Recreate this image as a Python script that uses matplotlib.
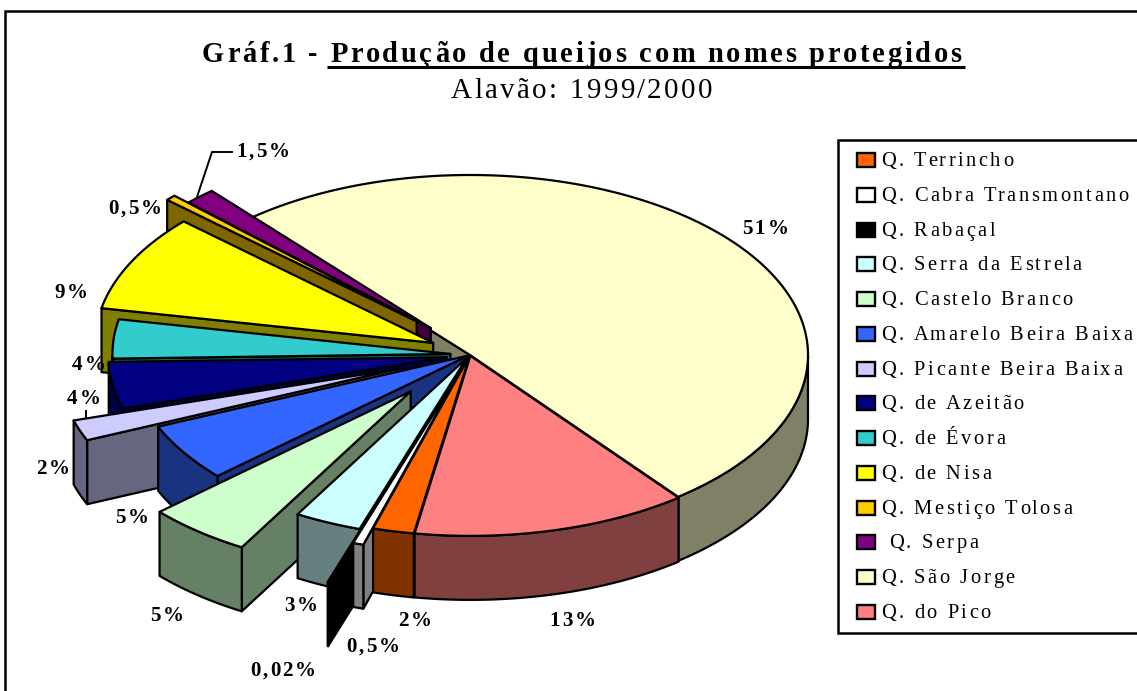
import numpy as np
import matplotlib
matplotlib.use("Agg")
import matplotlib.pyplot as plt
from matplotlib.patches import Polygon, Rectangle
from matplotlib.text import Text

plt.rcParams["font.family"] = ["Liberation Serif", "DejaVu Serif"]

# legend order, which is also the clockwise order of the slices
names = ["Q. Terrincho", "Q. Cabra Transmontano", "Q. Rabaçal", "Q. Serra da Estrela",
         "Q. Castelo Branco", "Q. Amarelo Beira Baixa", "Q. Picante Beira Baixa",
         "Q. de Azeitão", "Q. de Évora", "Q. de Nisa", "Q. Mestiço Tolosa",
         " Q. Serpa", "Q. São Jorge", "Q. do Pico"]
# a little finer than the printed labels
values = [1.97, 0.5, 0.02, 3.2, 5.0, 5.2, 1.86, 4.2, 3.5, 8.7, 0.5, 1.5, 50.66, 13.2]
colors = ["#FF6600", "#FFFFFF", "#000000", "#CCFFFF", "#CCFFCC", "#3366FF", "#CCCCFF",
          "#000080", "#33CCCC", "#FFFF00", "#FFCC00", "#800080", "#FFFFCC", "#FF8080"]
# how far each slice is pulled out, as a share of the radius
explode_x = [0.005, 0.1, 0.33, 0.025, 0.279, 0.005, 0.228, 0.07, 0.058, 0.122, 0.217, 0.17, 0.0, 0.005]
explode_y = [0.005, 0.1, 0.33, 0.02, 0.26, 0.005, 0.228, 0.08, 0.07, 0.15, 0.273, 0.205, 0.0, 0.005]

pct_labels = ["2%", "0,5%", "0,02%", "3%", "5%", "5%", "2%", "4%", "4%", "9%", "0,5%", "1,5%", "51%", "13%"]
pct_xy = [(398, 626), (346, 652), (250, 676), (284, 611), (150, 621), (115, 523), (36, 474),
          (67, 404), (72, 370), (54, 298), (108, 214), (236, 157), (742, 234), (549, 626)]

# back to front
draw_order = [12, 11, 10, 9, 8, 7, 6, 5, 4, 3, 2, 1, 0, 13]

CX, CY, RX, RY, DEPTH = 470, 355, 338, 180, 64
START = -99.5
LW = 1.6


class TrackedText(Text):
    # matplotlib has no letter spacing, the reference has a lot of it
    tracking = 0

    def draw(self, renderer):
        s = self.get_text()
        x = self.get_position()[0]
        prop = self.get_fontproperties()
        bar = renderer.get_text_width_height_descent("|", prop, False)[0]
        for i, ch in enumerate(s):
            # the bar keeps trailing spaces in the measure and does not kern
            w = renderer.get_text_width_height_descent(s[:i] + "|", prop, False)[0] - bar
            self.set_text(ch)
            self.set_x(x + w + i * self.tracking)
            super().draw(renderer)
        self.set_text(s)
        self.set_x(x)


def put_text(ax, x, y, s, px, tracking, weight="normal"):
    t = TrackedText(x, y, s, fontsize=px * 0.72, fontweight=weight, va="baseline", ha="left", color="black")
    t.tracking = tracking
    ax.add_artist(t)
    return t


def point(apex, t):
    a = np.radians(t)
    return apex[0] + RX * np.cos(a), apex[1] - RY * np.sin(a)


def face(ax, pts, color):
    ax.add_patch(Polygon(pts, closed=True, facecolor=color, edgecolor="black", lw=LW, joinstyle="round"))


def draw_slice(ax, t0, t1, ex, ey, color):
    a = np.radians((t0 + t1) / 2)
    apex = (CX + ex * RX * np.cos(a), CY - ey * RY * np.sin(a))
    dark = tuple(c * 0.5 for c in matplotlib.colors.to_rgb(color))
    ts = np.linspace(t0, t1, max(int(abs(t1 - t0) * 2), 2))
    arc = [point(apex, t) for t in ts]

    # radial walls, only where they face the viewer
    for t, normal in ((t0, t0 + 90), (t1, t1 - 90)):
        if np.sin(np.radians(normal)) < 0:
            p = point(apex, t)
            face(ax, [apex, p, (p[0], p[1] + DEPTH), (apex[0], apex[1] + DEPTH)], dark)

    # outer wall on the front half of the ellipse
    front = [point(apex, t) for t in ts if np.sin(np.radians(t)) < 0]
    if len(front) > 1:
        face(ax, front + [(x, y + DEPTH) for x, y in reversed(front)], dark)

    face(ax, [apex] + arc, color)


fig = plt.figure(figsize=(11.37, 6.91), dpi=100)
ax = fig.add_axes([0, 0, 1, 1])
ax.set_xlim(0, 1137)
ax.set_ylim(691, 0)
ax.axis("off")

# chart border runs off the picture on the right and bottom
ax.add_patch(Rectangle((5, 11), 1200, 760, facecolor="white", edgecolor="black", lw=1.8))

fracs = np.array(values) / sum(values) * 360
edges = START - np.concatenate([[0], np.cumsum(fracs)])
for i in draw_order:
    draw_slice(ax, edges[i], edges[i + 1], explode_x[i], explode_y[i], colors[i])

for s, (x, y) in zip(pct_labels, pct_xy):
    put_text(ax, x, y, s, 21, 2.2, "bold")

# leader lines
ax.plot([232, 212, 197], [152, 152, 197], color="black", lw=1.4)
ax.plot([86, 86], [411, 418], color="black", lw=1.4)

# title
put_text(ax, 202, 62, "Gráf.1 - Produção de queijos com nomes protegidos", 28.5, 2.75, "bold")
ax.plot([327, 965], [66.5, 66.5], color="black", lw=2.2, solid_capstyle="butt")
put_text(ax, 451, 98, "Alavão: 1999/2000", 29, 2.4)

# legend
ax.add_patch(Rectangle((838, 140), 400, 493, facecolor="white", edgecolor="black", lw=1.8))
for i, s in enumerate(names):
    yc = 160 + i * 34.77
    ax.add_patch(Rectangle((857, yc - 7), 18, 14, facecolor=colors[i], edgecolor="black", lw=1.7))
    put_text(ax, 881, yc + 6, s, 20.5, 2.55)

fig.savefig("out.png", dpi=100)
